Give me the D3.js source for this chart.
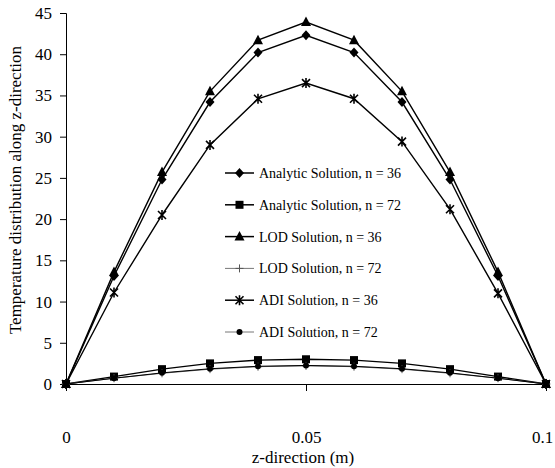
<!DOCTYPE html>
<html>
<head>
<meta charset="utf-8">
<script src="https://cdn.jsdelivr.net/npm/d3@7"></script>
<style>
  body { margin: 0; background: #fff; }
  svg { display: block; font-family: "Liberation Serif", "DejaVu Serif", serif; }
</style>
</head>
<body>
<svg width="555" height="468"></svg>
<script>
// z positions (m)
const zValues = [0, 0.01, 0.02, 0.03, 0.04, 0.05, 0.06, 0.07, 0.08, 0.09, 0.1];

// temperature series
const analytic36 = [0, 13.1, 24.8, 34.2, 40.2, 42.3, 40.2, 34.2, 24.8, 13.1, 0];
const analytic72 = [0, 0.9, 1.8, 2.5, 2.9, 3.0, 2.9, 2.5, 1.8, 0.9, 0];
const lod36 = [0, 13.6, 25.7, 35.5, 41.7, 43.9, 41.7, 35.5, 25.7, 13.6, 0];
const lod72 = [0, 0.7, 1.3, 1.8, 2.1, 2.2, 2.1, 1.8, 1.3, 0.7, 0];
const adi36 = [0, 11.1, 20.5, 29.0, 34.6, 36.5, 34.6, 29.4, 21.2, 11.0, 0];
const adi72 = [0, 0.7, 1.35, 1.85, 2.15, 2.25, 2.15, 1.85, 1.35, 0.7, 0];

const yTicks = [0, 5, 10, 15, 20, 25, 30, 35, 40, 45];
const xTicks = [0, 0.05, 0.1];

const series = [
  {name: "Analytic Solution, n = 36", values: analytic36, symbol: "diamond"},
  {name: "Analytic Solution, n = 72", values: analytic72, symbol: "square"},
  {name: "LOD Solution, n = 36", values: lod36, symbol: "triangle"},
  {name: "LOD Solution, n = 72", values: lod72, symbol: "plus"},
  {name: "ADI Solution, n = 36", values: adi36, symbol: "star"},
  {name: "ADI Solution, n = 72", values: adi72, symbol: "dot"}
];

const svg = d3.select("svg");

const x = d3.scaleLinear().domain([0, 0.1]).range([66, 546]);
const y = d3.scaleLinear().domain([0, 45]).range([384, 13]);

// axes
const yAxis = svg.append("g")
  .attr("transform", "translate(66,0)")
  .call(d3.axisLeft(y).tickValues(yTicks).tickSize(6).tickPadding(8).tickFormat(d3.format("d")));
yAxis.selectAll("text").style("font-size", "17px").style("font-family", "Liberation Serif");

const xAxis = svg.append("g")
  .attr("transform", "translate(0,384)")
  .call(d3.axisBottom(x).tickValues(xTicks).tickSize(7).tickPadding(40).tickFormat(d => d === 0 ? "0" : String(d)));
xAxis.selectAll("text").style("font-size", "17px").style("font-family", "Liberation Serif");
// keep the last label inside the frame
xAxis.selectAll(".tick").filter(d => d === 0.1).select("text").attr("dx", "-4");
svg.selectAll(".domain").attr("stroke", "#000");

svg.append("text")
  .attr("x", 303).attr("y", 463)
  .attr("text-anchor", "middle")
  .style("font-size", "17px")
  .text("z-direction (m)");

svg.append("text")
  .attr("transform", "translate(21,190) rotate(-90)")
  .attr("text-anchor", "middle")
  .style("font-size", "17px")
  .text("Temperature distribution along z-direction");

// marker drawing
function drawMarker(g, symbol) {
  if (symbol === "diamond") {
    g.append("path").attr("d", "M0,-5L4.5,0L0,5L-4.5,0Z").attr("fill", "#000");
  } else if (symbol === "square") {
    g.append("rect").attr("x", -4).attr("y", -4).attr("width", 8).attr("height", 8).attr("fill", "#000");
  } else if (symbol === "triangle") {
    g.append("path").attr("d", "M0,-5.5L5,4L-5,4Z").attr("fill", "#000");
  } else if (symbol === "plus") {
    g.append("path").attr("d", "M-4,0H4M0,-4V4").attr("stroke", "#555").attr("stroke-width", 1);
  } else if (symbol === "star") {
    g.append("path").attr("d", "M-4,-4L4,4M-4,4L4,-4M0,-5V5").attr("stroke", "#000").attr("stroke-width", 1.6);
  } else if (symbol === "dot") {
    g.append("circle").attr("r", 3).attr("fill", "#000");
  }
}

const line = d3.line().x((d, i) => x(zValues[i])).y(d => y(d));

series.forEach(s => {
  const thin = s.symbol === "plus" || s.symbol === "dot";
  svg.append("path")
    .datum(s.values)
    .attr("fill", "none")
    .attr("stroke", s.symbol === "plus" ? "#666" : "#000")
    .attr("stroke-width", thin ? 1 : 1.4)
    .attr("d", line);
  s.values.forEach((v, i) => {
    const g = svg.append("g").attr("transform", `translate(${x(zValues[i])},${y(v)})`);
    drawMarker(g, s.symbol);
  });
});

// legend
const legend = svg.append("g").attr("transform", "translate(225,173)");
series.forEach((s, i) => {
  const row = legend.append("g").attr("transform", `translate(0,${i * 31.8})`);
  const thin = s.symbol === "plus" || s.symbol === "dot";
  row.append("line")
    .attr("x1", 0).attr("x2", 29).attr("y1", 0).attr("y2", 0)
    .attr("stroke", thin ? "#777" : "#000")
    .attr("stroke-width", thin ? 1 : 1.5);
  drawMarker(row.append("g").attr("transform", "translate(14.5,0)"), s.symbol);
  row.append("text")
    .attr("x", 34).attr("y", 5)
    .style("font-size", "14px")
    .text(s.name);
});
</script>
</body>
</html>
